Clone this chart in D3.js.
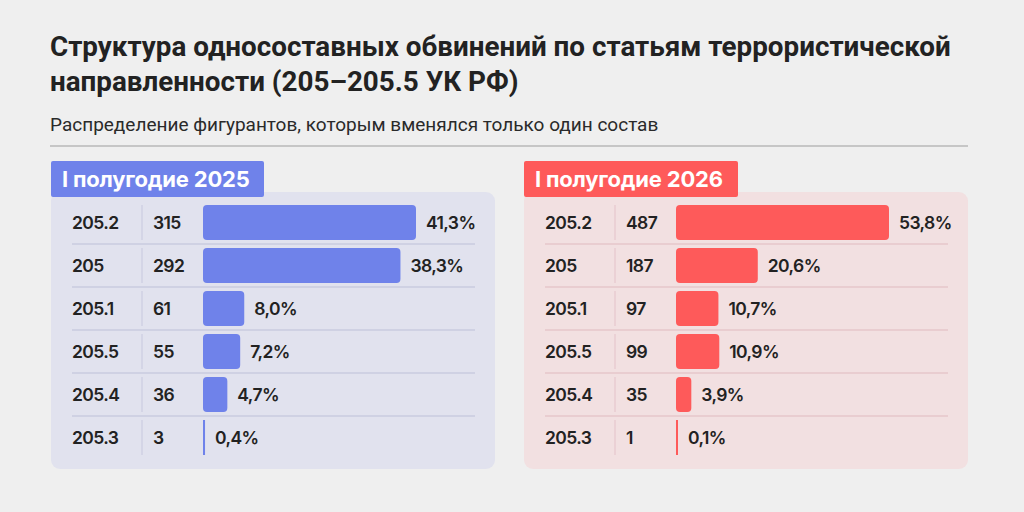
<!DOCTYPE html>
<html>
<head>
<meta charset="utf-8">
<script src="https://cdn.jsdelivr.net/npm/d3@7"></script>
<style>
  body { margin: 0; background: #efefef; }
  svg { display: block; }
</style>
</head>
<body>
<svg id="chart" width="1024" height="512"></svg>
<script>
/////////////////////////////////
// DATA
//////////////////////////////////

var titleLines = ["Структура односоставных обвинений по статьям террористической", "направленности (205–205.5 УК РФ)"];
var subtitle = "Распределение фигурантов, которым вменялся только один состав";

var codes2025 = ["205.2", "205", "205.1", "205.5", "205.4", "205.3"];
var counts2025 = [315, 292, 61, 55, 36, 3];
var shares2025 = [41.3, 38.3, 8.0, 7.2, 4.7, 0.4];

var codes2026 = ["205.2", "205", "205.1", "205.5", "205.4", "205.3"];
var counts2026 = [487, 187, 97, 99, 35, 1];
var shares2026 = [53.8, 20.6, 10.7, 10.9, 3.9, 0.1];

/////////////////////////////////
// SETUP
//////////////////////////////////

var svg = d3.select("#chart");
var textColor = "#222";

svg.append("rect")
  .attr("width", 1024).attr("height", 512)
  .attr("fill", "#efefef");

// title
svg.selectAll(".title")
  .data(titleLines)
  .enter()
  .append("text")
    .attr("class", "title")
    .attr("x", 50)
    .attr("y", function(d, i) { return 56 + i * 35; })
    .attr("font-family", "Roboto")
    .attr("font-weight", 700)
    .attr("font-size", 27.8)
    .attr("fill", textColor)
    .text(function(d) { return d; });

svg.append("text")
  .attr("x", 50)
  .attr("y", 131)
  .attr("font-family", "Roboto")
  .attr("font-size", 19)
  .attr("fill", "#2a2a2a")
  .text(subtitle);

svg.append("line")
  .attr("x1", 50).attr("x2", 968)
  .attr("y1", 146).attr("y2", 146)
  .attr("stroke", "#c6c6c6")
  .attr("stroke-width", 2);

var fmt = function(v) { return d3.format(".1f")(v).replace(".", ",") + "%"; };

/////////////////////////////////
// PANELS
//////////////////////////////////

function drawPanel(opts) {
  var g = svg.append("g").attr("transform", "translate(" + opts.x + ",0)");

  var rows = opts.codes.map(function(c, i) {
    return {code: c, count: opts.counts[i], share: opts.shares[i]};
  });

  // background card
  g.append("rect")
    .attr("x", 0).attr("y", 192)
    .attr("width", 444).attr("height", 277)
    .attr("rx", 9)
    .attr("fill", opts.bg);

  // label tab
  g.append("rect")
    .attr("x", 0).attr("y", 161)
    .attr("width", opts.tabW).attr("height", 36)
    .attr("rx", 2)
    .attr("fill", opts.color);

  g.append("text")
    .attr("x", 11)
    .attr("y", 187)
    .attr("font-family", "Inter")
    .attr("font-weight", 700)
    .attr("font-size", 22)
    .attr("letter-spacing", -0.2)
    .attr("fill", "#fff")
    .text(opts.label);

  var y = d3.scaleBand()
    .domain(opts.codes)
    .range([201, 459]);

  var x = d3.scaleLinear()
    .domain([0, d3.max(opts.counts)])
    .range([0, 213]);

  var barX = 152;

  // horizontal separators
  g.selectAll(".sep")
    .data(rows.slice(0, rows.length - 1))
    .enter()
    .append("line")
      .attr("x1", 21).attr("x2", 424)
      .attr("y1", function(d) { return y(d.code) + y.bandwidth(); })
      .attr("y2", function(d) { return y(d.code) + y.bandwidth(); })
      .attr("stroke", opts.sep)
      .attr("stroke-width", 2);

  // vertical separators
  g.selectAll(".vsep")
    .data(rows)
    .enter()
    .append("line")
      .attr("x1", 91).attr("x2", 91)
      .attr("y1", function(d) { return y(d.code) + 4; })
      .attr("y2", function(d) { return y(d.code) + y.bandwidth() - 4; })
      .attr("stroke", opts.sep)
      .attr("stroke-width", 1.5);

  // bars
  g.selectAll(".bar")
    .data(rows)
    .enter()
    .append("rect")
      .attr("x", barX)
      .attr("y", function(d) { return y(d.code) + 4; })
      .attr("width", function(d) { return Math.max(2, x(d.count)); })
      .attr("height", y.bandwidth() - 8)
      .attr("rx", function(d) { return x(d.count) < 8 ? 0 : 4; })
      .attr("fill", opts.color);

  var textRow = function(sel, xPos, fn) {
    sel.selectAll(null)
      .data(rows)
      .enter()
      .append("text")
        .attr("x", xPos)
        .attr("y", function(d) { return y(d.code) + y.bandwidth() / 2 + 6.5; })
        .attr("font-family", "Inter")
        .attr("font-weight", 600)
        .attr("font-size", 17.5)
        .attr("letter-spacing", -0.6)
        .attr("fill", textColor)
        .text(fn);
  };

  textRow(g, 21, function(d) { return d.code; });
  textRow(g, 102, function(d) { return d.count; });

  g.selectAll(".pct")
    .data(rows)
    .enter()
    .append("text")
      .attr("x", function(d) { return barX + Math.max(2, x(d.count)) + 10; })
      .attr("y", function(d) { return y(d.code) + y.bandwidth() / 2 + 6.5; })
      .attr("font-family", "Inter")
      .attr("font-weight", 600)
      .attr("font-size", 17.5)
      .attr("letter-spacing", -0.6)
      .attr("fill", textColor)
      .text(function(d) { return fmt(d.share); });
}

drawPanel({
  x: 51, label: "I полугодие 2025", tabW: 213,
  codes: codes2025, counts: counts2025, shares: shares2025,
  color: "#6f82ea", bg: "#e1e2ee", sep: "#cfd1e3"
});

drawPanel({
  x: 524, label: "I полугодие 2026", tabW: 214,
  codes: codes2026, counts: counts2026, shares: shares2026,
  color: "#fe5a5a", bg: "#f2e0e1", sep: "#e9cdd0"
});
</script>
</body>
</html>
